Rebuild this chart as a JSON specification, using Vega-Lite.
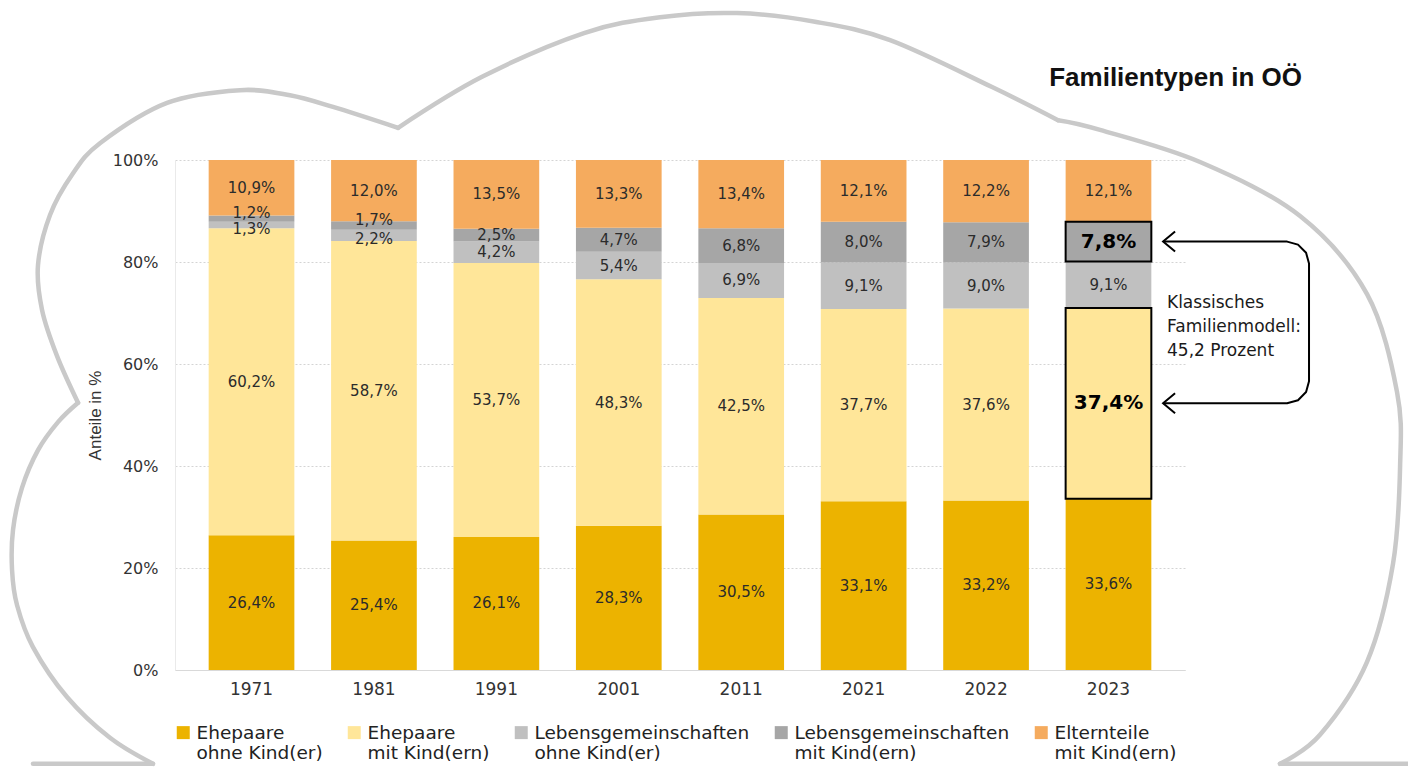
{
  "$schema": "https://vega.github.io/schema/vega-lite/v6.json",
  "width": 1010,
  "height": 510,
  "autosize": {"type": "none"},
  "padding": {"left": 175, "top": 160, "right": 223, "bottom": 99},
  "background": "#ffffff",
  "config": {
    "view": {"stroke": null},
    "font": "DejaVu Sans",
    "locale": {"number": {"decimal": ",", "thousands": ".", "grouping": [3], "currency": ["", " €"]}}
  },
  "resolve": {"scale": {"x": "independent", "y": "independent"}},
  "layer": [
    {
      "data": {"values": [
        {"year": "1971", "cat": "Ehepaare ohne Kind(er)", "value": 0.264},
        {"year": "1971", "cat": "Ehepaare mit Kind(ern)", "value": 0.602},
        {"year": "1971", "cat": "Lebensgemeinschaften ohne Kind(er)", "value": 0.013},
        {"year": "1971", "cat": "Lebensgemeinschaften mit Kind(ern)", "value": 0.012},
        {"year": "1971", "cat": "Elternteile mit Kind(ern)", "value": 0.109},
        {"year": "1981", "cat": "Ehepaare ohne Kind(er)", "value": 0.254},
        {"year": "1981", "cat": "Ehepaare mit Kind(ern)", "value": 0.587},
        {"year": "1981", "cat": "Lebensgemeinschaften ohne Kind(er)", "value": 0.022},
        {"year": "1981", "cat": "Lebensgemeinschaften mit Kind(ern)", "value": 0.017},
        {"year": "1981", "cat": "Elternteile mit Kind(ern)", "value": 0.120},
        {"year": "1991", "cat": "Ehepaare ohne Kind(er)", "value": 0.261},
        {"year": "1991", "cat": "Ehepaare mit Kind(ern)", "value": 0.537},
        {"year": "1991", "cat": "Lebensgemeinschaften ohne Kind(er)", "value": 0.042},
        {"year": "1991", "cat": "Lebensgemeinschaften mit Kind(ern)", "value": 0.025},
        {"year": "1991", "cat": "Elternteile mit Kind(ern)", "value": 0.135},
        {"year": "2001", "cat": "Ehepaare ohne Kind(er)", "value": 0.283},
        {"year": "2001", "cat": "Ehepaare mit Kind(ern)", "value": 0.483},
        {"year": "2001", "cat": "Lebensgemeinschaften ohne Kind(er)", "value": 0.054},
        {"year": "2001", "cat": "Lebensgemeinschaften mit Kind(ern)", "value": 0.047},
        {"year": "2001", "cat": "Elternteile mit Kind(ern)", "value": 0.133},
        {"year": "2011", "cat": "Ehepaare ohne Kind(er)", "value": 0.305},
        {"year": "2011", "cat": "Ehepaare mit Kind(ern)", "value": 0.425},
        {"year": "2011", "cat": "Lebensgemeinschaften ohne Kind(er)", "value": 0.069},
        {"year": "2011", "cat": "Lebensgemeinschaften mit Kind(ern)", "value": 0.068},
        {"year": "2011", "cat": "Elternteile mit Kind(ern)", "value": 0.134},
        {"year": "2021", "cat": "Ehepaare ohne Kind(er)", "value": 0.331},
        {"year": "2021", "cat": "Ehepaare mit Kind(ern)", "value": 0.377},
        {"year": "2021", "cat": "Lebensgemeinschaften ohne Kind(er)", "value": 0.091},
        {"year": "2021", "cat": "Lebensgemeinschaften mit Kind(ern)", "value": 0.080},
        {"year": "2021", "cat": "Elternteile mit Kind(ern)", "value": 0.121},
        {"year": "2022", "cat": "Ehepaare ohne Kind(er)", "value": 0.332},
        {"year": "2022", "cat": "Ehepaare mit Kind(ern)", "value": 0.376},
        {"year": "2022", "cat": "Lebensgemeinschaften ohne Kind(er)", "value": 0.090},
        {"year": "2022", "cat": "Lebensgemeinschaften mit Kind(ern)", "value": 0.079},
        {"year": "2022", "cat": "Elternteile mit Kind(ern)", "value": 0.122},
        {"year": "2023", "cat": "Ehepaare ohne Kind(er)", "value": 0.336},
        {"year": "2023", "cat": "Ehepaare mit Kind(ern)", "value": 0.374},
        {"year": "2023", "cat": "Lebensgemeinschaften ohne Kind(er)", "value": 0.091},
        {"year": "2023", "cat": "Lebensgemeinschaften mit Kind(ern)", "value": 0.078},
        {"year": "2023", "cat": "Elternteile mit Kind(ern)", "value": 0.121}
      ]},
      "transform": [
        {"calculate": "indexof(['Ehepaare ohne Kind(er)','Ehepaare mit Kind(ern)','Lebensgemeinschaften ohne Kind(er)','Lebensgemeinschaften mit Kind(ern)','Elternteile mit Kind(ern)'], datum.cat)", "as": "k"},
        {"stack": "value", "groupby": ["year"], "sort": [{"field": "k", "order": "ascending"}], "as": ["y0", "y1"], "offset": "normalize"},
        {"calculate": "(datum.y0 + datum.y1) / 2", "as": "mid"}
      ],
      "encoding": {
        "x": {
          "field": "year", "type": "ordinal",
          "scale": {"paddingInner": 0.3, "paddingOuter": 0.275},
          "axis": {"title": null, "labelAngle": 0, "ticks": false, "grid": false, "domainColor": "#D9D9D9", "labelFont": "DejaVu Sans", "labelFontSize": 17, "labelColor": "#333333", "labelPadding": 11}
        }
      },
      "layer": [
        {
          "mark": {"type": "bar"},
          "encoding": {
            "y": {
              "field": "y0", "type": "quantitative", "scale": {"domain": [0, 1]},
              "axis": {"title": "Anteile in %", "format": ".0%", "values": [0, 0.2, 0.4, 0.6, 0.8, 1], "grid": true, "gridColor": "#D4D4D4", "gridDash": [2, 2], "gridWidth": 1, "ticks": false, "domain": true, "domainColor": "#EAEAEA", "labelFont": "DejaVu Sans", "labelFontSize": 16, "labelColor": "#333333", "labelPadding": 17, "titleFont": "Liberation Sans", "titleFontSize": 17, "titleFontWeight": "normal", "titleColor": "#333333", "titlePadding": 8}
            },
            "y2": {"field": "y1"},
            "color": {
              "field": "cat", "type": "nominal",
              "scale": {
                "domain": ["Ehepaare ohne Kind(er)", "Ehepaare mit Kind(ern)", "Lebensgemeinschaften ohne Kind(er)", "Lebensgemeinschaften mit Kind(ern)", "Elternteile mit Kind(ern)"],
                "range": ["#ECB300", "#FFE699", "#C0C0C0", "#A6A6A6", "#F5AB5E"]
              },
              "legend": {
                "orient": "none", "legendX": -1, "legendY": 563, "direction": "horizontal", "columns": 5, "title": null,
                "symbolType": "square", "symbolSize": 169, "symbolStrokeWidth": 0, "symbolOpacity": 1,
                "labelFont": "DejaVu Sans", "labelFontSize": 18.5, "labelColor": "#222222", "labelLimit": 400, "labelOffset": 4, "columnPadding": 22,
                "labelExpr": "[slice(datum.label, 0, indexof(datum.label, ' ')), slice(datum.label, indexof(datum.label, ' ') + 1)]"
              }
            }
          }
        },
        {
          "transform": [{"filter": "datum.year == '2023' && (datum.k == 1 || datum.k == 3)"}],
          "mark": {"type": "bar", "fillOpacity": 0, "stroke": "#000000", "strokeWidth": 2},
          "encoding": {
            "y": {"field": "y0", "type": "quantitative", "scale": {"domain": [0, 1]}},
            "y2": {"field": "y1"}
          }
        },
        {
          "transform": [{"filter": "!(datum.year == '2023' && (datum.k == 1 || datum.k == 3)) && !(datum.value < 0.025 && (datum.k == 2 || datum.k == 3))"}],
          "mark": {"type": "text", "font": "DejaVu Sans", "fontSize": 15, "color": "#2B2B2B"},
          "encoding": {
            "y": {"field": "mid", "type": "quantitative"},
            "text": {"field": "value", "type": "quantitative", "format": ".1%"}
          }
        },
        {
          "transform": [{"filter": "datum.value < 0.025 && datum.k == 2"}],
          "mark": {"type": "text", "font": "DejaVu Sans", "fontSize": 15, "color": "#2B2B2B", "dy": 4},
          "encoding": {
            "y": {"field": "mid", "type": "quantitative"},
            "text": {"field": "value", "type": "quantitative", "format": ".1%"}
          }
        },
        {
          "transform": [{"filter": "datum.value < 0.025 && datum.k == 3"}],
          "mark": {"type": "text", "font": "DejaVu Sans", "fontSize": 15, "color": "#2B2B2B", "dy": -6},
          "encoding": {
            "y": {"field": "mid", "type": "quantitative"},
            "text": {"field": "value", "type": "quantitative", "format": ".1%"}
          }
        },
        {
          "transform": [{"filter": "datum.year == '2023' && (datum.k == 1 || datum.k == 3)"}],
          "mark": {"type": "text", "font": "DejaVu Sans", "fontSize": 20, "fontWeight": "bold", "color": "#000000"},
          "encoding": {
            "y": {"field": "mid", "type": "quantitative"},
            "text": {"field": "value", "type": "quantitative", "format": ".1%"}
          }
        }
      ]
    },
    {
      "data": {"values": [
        {"seg": "a", "i": 0, "u": -1.785, "v": -0.184},
        {"seg": "a", "i": 1, "u": -0.805, "v": -0.184},
        {"seg": "b", "i": 0, "u": -0.805, "v": -0.184},
        {"seg": "b", "i": 1, "u": -1.156, "v": -0.133},
        {"seg": "b", "i": 2, "u": -1.507, "v": -0.053},
        {"seg": "b", "i": 3, "u": -1.785, "v": 0.045},
        {"seg": "b", "i": 4, "u": -1.915, "v": 0.127},
        {"seg": "b", "i": 5, "u": -1.956, "v": 0.196},
        {"seg": "b", "i": 6, "u": -1.948, "v": 0.275},
        {"seg": "b", "i": 7, "u": -1.875, "v": 0.357},
        {"seg": "b", "i": 8, "u": -1.744, "v": 0.431},
        {"seg": "b", "i": 9, "u": -1.581, "v": 0.486},
        {"seg": "b", "i": 10, "u": -1.417, "v": 0.524},
        {"seg": "c", "i": 0, "u": -1.417, "v": 0.524},
        {"seg": "c", "i": 1, "u": -1.589, "v": 0.616},
        {"seg": "c", "i": 2, "u": -1.711, "v": 0.706},
        {"seg": "c", "i": 3, "u": -1.744, "v": 0.794},
        {"seg": "c", "i": 4, "u": -1.646, "v": 0.892},
        {"seg": "c", "i": 5, "u": -1.466, "v": 0.971},
        {"seg": "c", "i": 6, "u": -1.238, "v": 1.033},
        {"seg": "c", "i": 7, "u": -0.690, "v": 1.112},
        {"seg": "c", "i": 8, "u": -0.094, "v": 1.137},
        {"seg": "c", "i": 9, "u": 0.314, "v": 1.127},
        {"seg": "c", "i": 10, "u": 0.666, "v": 1.104},
        {"seg": "c", "i": 11, "u": 1.197, "v": 1.063},
        {"seg": "d", "i": 0, "u": 1.197, "v": 1.063},
        {"seg": "d", "i": 1, "u": 1.883, "v": 1.163},
        {"seg": "d", "i": 2, "u": 2.716, "v": 1.249},
        {"seg": "d", "i": 3, "u": 3.337, "v": 1.280},
        {"seg": "d", "i": 4, "u": 3.966, "v": 1.288},
        {"seg": "d", "i": 5, "u": 4.603, "v": 1.271},
        {"seg": "d", "i": 6, "u": 5.216, "v": 1.235},
        {"seg": "d", "i": 7, "u": 6.049, "v": 1.143},
        {"seg": "d", "i": 8, "u": 6.588, "v": 1.078},
        {"seg": "e", "i": 0, "u": 6.588, "v": 1.078},
        {"seg": "e", "i": 1, "u": 6.931, "v": 1.059},
        {"seg": "e", "i": 2, "u": 7.748, "v": 0.996},
        {"seg": "e", "i": 3, "u": 8.565, "v": 0.890},
        {"seg": "e", "i": 4, "u": 9.112, "v": 0.737},
        {"seg": "e", "i": 5, "u": 9.357, "v": 0.545},
        {"seg": "e", "i": 6, "u": 9.382, "v": 0.400},
        {"seg": "e", "i": 7, "u": 9.324, "v": 0.208},
        {"seg": "e", "i": 8, "u": 9.112, "v": 0.016},
        {"seg": "e", "i": 9, "u": 8.728, "v": -0.127},
        {"seg": "e", "i": 10, "u": 8.401, "v": -0.184},
        {"seg": "f", "i": 0, "u": 8.401, "v": -0.184},
        {"seg": "f", "i": 1, "u": 9.447, "v": -0.184}
      ]},
      "mark": {"type": "line", "interpolate": "cardinal", "stroke": "#C9C9C9", "strokeWidth": 4.5, "strokeCap": "round", "strokeJoin": "round", "clip": false},
      "encoding": {
        "x": {"field": "u", "type": "quantitative", "scale": {"domain": [-0.625, 7.625], "nice": false, "zero": false}, "axis": null},
        "y": {"field": "v", "type": "quantitative", "scale": {"domain": [0, 1], "nice": false}, "axis": null},
        "detail": {"field": "seg", "type": "nominal"},
        "order": {"field": "i", "type": "quantitative"}
      }
    },
    {
      "data": {"values": [
        {"i": 0, "u": 7.446, "v": 0.84},
        {"i": 1, "u": 8.459, "v": 0.84},
        {"i": 2, "u": 8.548, "v": 0.834},
        {"i": 3, "u": 8.614, "v": 0.818},
        {"i": 4, "u": 8.638, "v": 0.797},
        {"i": 5, "u": 8.638, "v": 0.566},
        {"i": 6, "u": 8.614, "v": 0.545},
        {"i": 7, "u": 8.548, "v": 0.529},
        {"i": 8, "u": 8.459, "v": 0.523},
        {"i": 9, "u": 7.446, "v": 0.523}
      ]},
      "mark": {"type": "line", "interpolate": "linear", "stroke": "#000000", "strokeWidth": 2, "strokeJoin": "round", "clip": false},
      "encoding": {
        "x": {"field": "u", "type": "quantitative", "scale": {"domain": [-0.625, 7.625], "nice": false, "zero": false}, "axis": null},
        "y": {"field": "v", "type": "quantitative", "scale": {"domain": [0, 1], "nice": false}, "axis": null},
        "order": {"field": "i", "type": "quantitative"}
      }
    },
    {
      "data": {"values": [
        {"u": 7.446, "v": 0.84},
        {"u": 7.446, "v": 0.523}
      ]},
      "mark": {"type": "point", "shape": "M1.2,-1L0,0L1.2,1", "filled": false, "size": 400, "stroke": "#000000", "strokeWidth": 2, "opacity": 1, "clip": false},
      "encoding": {
        "x": {"field": "u", "type": "quantitative", "scale": {"domain": [-0.625, 7.625], "nice": false, "zero": false}, "axis": null},
        "y": {"field": "v", "type": "quantitative", "scale": {"domain": [0, 1], "nice": false}, "axis": null}
      }
    },
    {
      "data": {"values": [
        {"u": 7.478, "v": 0.735, "t": "Klassisches|Familienmodell:|45,2 Prozent"}
      ]},
      "mark": {"type": "text", "align": "left", "baseline": "top", "lineBreak": "|", "font": "DejaVu Sans", "fontSize": 17, "lineHeight": 24, "color": "#1A1A1A", "clip": false},
      "encoding": {
        "x": {"field": "u", "type": "quantitative", "scale": {"domain": [-0.625, 7.625], "nice": false, "zero": false}, "axis": null},
        "y": {"field": "v", "type": "quantitative", "scale": {"domain": [0, 1], "nice": false}, "axis": null},
        "text": {"field": "t", "type": "nominal"}
      }
    },
    {
      "data": {"values": [
        {"u": 8.581, "v": 1.145, "t": "Familientypen in OÖ"}
      ]},
      "mark": {"type": "text", "align": "right", "baseline": "alphabetic", "font": "Liberation Sans", "fontSize": 26, "fontWeight": "bold", "color": "#111111", "clip": false},
      "encoding": {
        "x": {"field": "u", "type": "quantitative", "scale": {"domain": [-0.625, 7.625], "nice": false, "zero": false}, "axis": null},
        "y": {"field": "v", "type": "quantitative", "scale": {"domain": [0, 1], "nice": false}, "axis": null},
        "text": {"field": "t", "type": "nominal"}
      }
    }
  ]
}
